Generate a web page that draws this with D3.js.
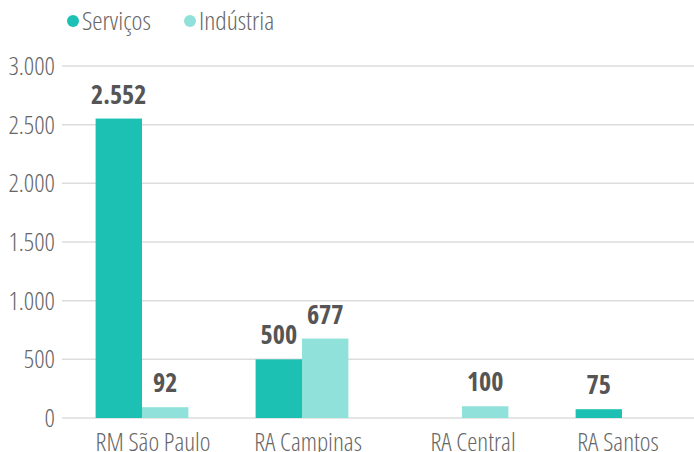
<!DOCTYPE html>
<html>
<head>
<meta charset="utf-8">
<script src="https://cdn.jsdelivr.net/npm/d3@7"></script>
<style>
    body { margin: 0; background: #fff; }
    svg text { font-family: "Open Sans", sans-serif; font-stretch: 75%; }
    .tick-label { font-size: 25.5px; font-weight: 300; fill: #666; }
    .val-label { font-size: 26px; font-weight: 700; fill: #555; }
    .legend-label { font-size: 26px; font-weight: 300; fill: #666; }
</style>
</head>
<body>
<svg id="chart" width="694" height="452"></svg>
<script>
const regions = ["RM São Paulo", "RA Campinas", "RA Central", "RA Santos"];
const series = ["Serviços", "Indústria"];
const servicos = [2552, 500, null, 75];
const industria = [92, 677, 100, null];
const colors = ["#1dc1b3", "#8fe1da"];
const yTicks = [0, 500, 1000, 1500, 2000, 2500, 3000];

const margin = {top: 66, left: 62, bottom: 34};
const width = 694, height = 452;
const svg = d3.select("#chart");

const x = d3.scaleBand().domain(regions).range([margin.left, 702]).paddingInner(0.42).paddingOuter(0.21);
const y = d3.scaleLinear().domain([0, 3000]).range([height - margin.bottom, margin.top]);
const x1 = d3.scaleBand().domain(series).range([0, x.bandwidth()]);

const fmt = d3.formatLocale({decimal: ",", thousands: ".", grouping: [3], currency: ["", ""]}).format(",");

// gridlines
svg.append("g").selectAll("line")
    .data(yTicks)
    .join("line")
    .attr("x1", margin.left).attr("x2", width)
    .attr("y1", d => y(d)).attr("y2", d => y(d))
    .attr("stroke", "#dcdcdc").attr("stroke-width", 1.5);

svg.append("g").selectAll("text")
    .data(yTicks)
    .join("text")
    .attr("class", "tick-label")
    .attr("x", 55).attr("y", d => y(d))
    .attr("dy", "0.35em")
    .attr("text-anchor", "end")
    .text(d => fmt(d));

const rows = [];
regions.forEach((r, i) => {
    rows.push({region: r, key: series[0], value: servicos[i], c: colors[0]});
    rows.push({region: r, key: series[1], value: industria[i], c: colors[1]});
});
const data = rows.filter(d => d.value !== null);

svg.append("g").selectAll("rect")
    .data(data)
    .join("rect")
    .attr("x", d => x(d.region) + x1(d.key))
    .attr("width", x1.bandwidth())
    .attr("y", d => y(d.value))
    .attr("height", d => y(0) - y(d.value))
    .attr("fill", d => d.c);

svg.append("g").selectAll("text")
    .data(data)
    .join("text")
    .attr("class", "val-label")
    .attr("x", d => x(d.region) + x1(d.key) + x1.bandwidth() / 2)
    .attr("y", d => y(d.value) - 15)
    .attr("text-anchor", "middle")
    .text(d => fmt(d.value));

// category labels sit a little off the group centre in the original
const labelNudge = [11, 6, 11, -4];
svg.append("g").selectAll("text")
    .data(regions)
    .join("text")
    .attr("class", "tick-label")
    .attr("x", (d, i) => x(d) + x.bandwidth() / 2 + labelNudge[i])
    .attr("y", 451)
    .attr("text-anchor", "middle")
    .text(d => d);

// legend
const legend = svg.append("g");
const lx = [73, 190];
series.forEach((s, i) => {
    legend.append("circle").attr("cx", lx[i]).attr("cy", 21).attr("r", 6).attr("fill", colors[i]);
    legend.append("text").attr("class", "legend-label")
        .attr("x", lx[i] + 9).attr("y", 21).attr("dy", "0.35em").text(s);
});
</script>
</body>
</html>
